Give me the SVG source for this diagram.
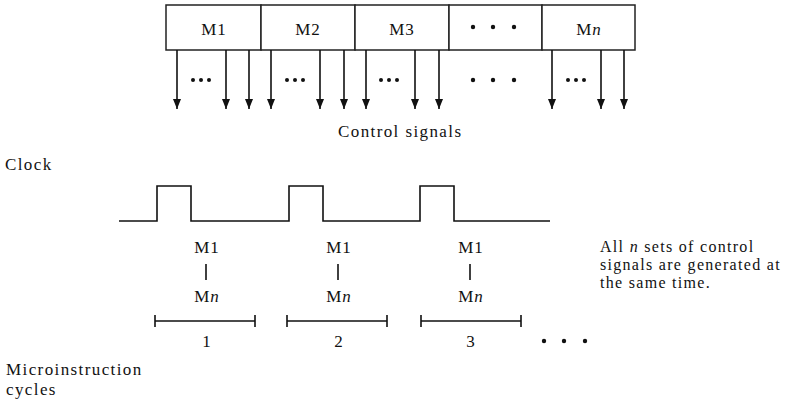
<svg xmlns="http://www.w3.org/2000/svg" width="796" height="403" viewBox="0 0 796 403" font-family="'Liberation Serif', 'DejaVu Serif', serif">
<style>
text{font-family:'Liberation Serif','DejaVu Serif',serif;fill:#111;}
.lbl{font-size:17px;letter-spacing:1px;text-anchor:middle;}
.txt{font-size:17px;letter-spacing:1.4px;}
.note{font-size:16px;letter-spacing:1.3px;}
.box{fill:#fff;stroke:#222;stroke-width:1.5;}
.ln{stroke:#111;stroke-width:1.6;fill:none;}
.dot{fill:#111;}
</style>
<defs>
<marker id="ah" markerWidth="10" markerHeight="8" refX="10" refY="4" orient="auto" markerUnits="userSpaceOnUse" viewBox="0 0 10 8">
<path d="M0,0 L10,4 L0,8 Z" fill="#111"/>
</marker>
</defs>
<rect width="796" height="403" fill="#fff"/>

<g id="register">
<g id="M1"><rect class="box" x="166" y="5" width="95" height="45"/><text class="lbl" x="214" y="35">M1</text></g>
<g id="M2"><rect class="box" x="261" y="5" width="94" height="45"/><text class="lbl" x="308" y="35">M2</text></g>
<g id="M3"><rect class="box" x="355" y="5" width="94" height="45"/><text class="lbl" x="402" y="35">M3</text></g>
<g id="Mdots"><rect class="box" x="449" y="5" width="93" height="45"/>
<circle class="dot" cx="473" cy="27" r="2.2"/><circle class="dot" cx="493" cy="27" r="2.2"/><circle class="dot" cx="514" cy="27" r="2.2"/></g>
<g id="Mn"><rect class="box" x="542" y="5" width="93" height="45"/><text class="lbl" x="589" y="35">M<tspan font-style="italic">n</tspan></text></g>
</g>

<g id="connectors">
<g class="ln" marker-end="url(#ah)">
<line x1="177" y1="50" x2="177" y2="109"/>
<line x1="226" y1="50" x2="226" y2="109"/>
<line x1="249" y1="50" x2="249" y2="109"/>
<line x1="271" y1="50" x2="271" y2="109"/>
<line x1="320" y1="50" x2="320" y2="109"/>
<line x1="344" y1="50" x2="344" y2="109"/>
<line x1="366" y1="50" x2="366" y2="109"/>
<line x1="415" y1="50" x2="415" y2="109"/>
<line x1="439" y1="50" x2="439" y2="109"/>
<line x1="552" y1="50" x2="552" y2="109"/>
<line x1="601" y1="50" x2="601" y2="109"/>
<line x1="624" y1="50" x2="624" y2="109"/>
</g>
<g id="signal-dots">
<circle class="dot" cx="193" cy="80" r="2"/><circle class="dot" cx="201" cy="80" r="2"/><circle class="dot" cx="209" cy="80" r="2"/>
<circle class="dot" cx="287" cy="80" r="2"/><circle class="dot" cx="295" cy="80" r="2"/><circle class="dot" cx="303" cy="80" r="2"/>
<circle class="dot" cx="381" cy="80" r="2"/><circle class="dot" cx="389" cy="80" r="2"/><circle class="dot" cx="397" cy="80" r="2"/>
<circle class="dot" cx="473" cy="80" r="2.2"/><circle class="dot" cx="493" cy="80" r="2.2"/><circle class="dot" cx="514" cy="80" r="2.2"/>
<circle class="dot" cx="568" cy="80" r="2"/><circle class="dot" cx="576" cy="80" r="2"/><circle class="dot" cx="584" cy="80" r="2"/>
</g>
</g>

<text class="txt" x="338" y="137">Control signals</text>
<text class="txt" x="5" y="170">Clock</text>

<g id="clock">
<polyline class="ln" points="119,221 157,221 157,186 191,186 191,221 289,221 289,186 323,186 323,221 420,221 420,186 454,186 454,221 550,221"/>
</g>

<g id="cycle1">
<text class="lbl" x="207" y="253">M1</text>
<line class="ln" x1="206" y1="264" x2="206" y2="280"/>
<text class="lbl" x="207" y="302">M<tspan font-style="italic">n</tspan></text>
<path class="ln" d="M155,321 H255 M155,315 V327 M255,315 V327"/>
<text class="lbl" x="207" y="347">1</text>
</g>
<g id="cycle2">
<text class="lbl" x="339" y="253">M1</text>
<line class="ln" x1="338" y1="264" x2="338" y2="280"/>
<text class="lbl" x="339" y="302">M<tspan font-style="italic">n</tspan></text>
<path class="ln" d="M287,321 H387 M287,315 V327 M387,315 V327"/>
<text class="lbl" x="339" y="347">2</text>
</g>
<g id="cycle3">
<text class="lbl" x="471" y="253">M1</text>
<line class="ln" x1="470" y1="264" x2="470" y2="280"/>
<text class="lbl" x="471" y="302">M<tspan font-style="italic">n</tspan></text>
<path class="ln" d="M421,321 H521 M421,315 V327 M521,315 V327"/>
<text class="lbl" x="471" y="347">3</text>
</g>
<g id="more-cycles">
<circle class="dot" cx="544" cy="341" r="2.2"/><circle class="dot" cx="564" cy="341" r="2.2"/><circle class="dot" cx="585" cy="341" r="2.2"/>
</g>

<text class="txt" x="6" y="375">Microinstruction</text>
<text class="txt" x="6" y="395">cycles</text>

<g id="note">
<text class="note" x="600" y="252">All <tspan font-style="italic">n</tspan> sets of control</text>
<text class="note" x="600" y="270">signals are generated at</text>
<text class="note" x="600" y="288">the same time.</text>
</g>
</svg>
